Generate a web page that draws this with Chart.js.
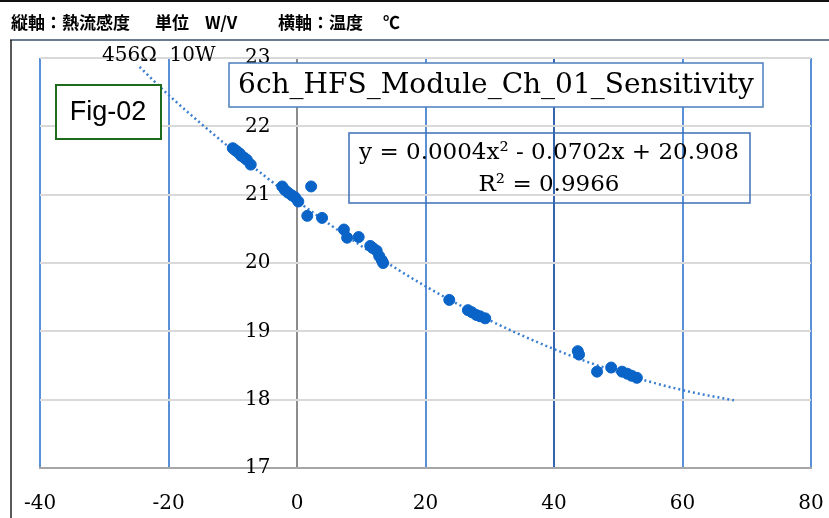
<!DOCTYPE html>
<html>
<head>
<meta charset="utf-8">
<script src="https://cdn.jsdelivr.net/npm/chart.js@4/dist/chart.umd.min.js"></script>
<style>
  html, body { margin: 0; padding: 0; background: #fff; }
  canvas { display: block; }
</style>
</head>
<body>
<canvas id="sensChart" width="829" height="518"></canvas>
<script>
// temperature (C) vs heat flow sensitivity (W/V)
const tempC = [-10.0, -9.6, -9.3, -8.9, -8.7, -8.2, -7.8, -7.2,
  -2.3, -1.9, -1.4, -0.8, -0.3, 0.2, 2.2, 1.6, 3.9,
  7.3, 7.8, 9.6, 11.4, 11.8, 12.4, 12.8, 13.2, 13.4,
  23.7, 26.6, 27.2, 27.9, 28.5, 29.3,
  43.7, 43.9, 46.7, 48.9, 50.6, 51.4, 52.1, 52.9];
const sensitivity = [21.68, 21.65, 21.63, 21.60, 21.57, 21.54, 21.51, 21.44,
  21.12, 21.07, 21.03, 20.99, 20.96, 20.90, 21.12, 20.69, 20.66,
  20.49, 20.37, 20.38, 20.25, 20.22, 20.18, 20.10, 20.04, 20.00,
  19.46, 19.31, 19.28, 19.24, 19.22, 19.19,
  18.71, 18.66, 18.41, 18.47, 18.41, 18.38, 18.35, 18.32];

// dotted trend curve
const trendX = [-24.5, -20, -10, 0, 10, 20, 30, 40, 50, 60, 68];
const trendY = [22.87, 22.46, 21.65, 20.91, 20.25, 19.66, 19.16, 18.74, 18.40, 18.14, 17.99];

const xTicks = [-40, -20, 0, 20, 40, 60, 80];
const yTicks = [17, 18, 19, 20, 21, 22, 23];

const headerParts = [
  { text: '縦軸：熱流感度', x: 11 },
  { text: '単位', x: 155 },
  { text: 'W/V', x: 205 },
  { text: '横軸：温度', x: 278 },
  { text: '℃', x: 383 }
];
const chartTitle = '6ch_HFS_Module_Ch_01_Sensitivity';
const trendLabel = ['y = 0.0004x² - 0.0702x + 20.908', 'R² = 0.9966'];
const figLabel = 'Fig-02';
const noteLabel = '456Ω  10W';

const SERIF = '"DejaVu Serif", "Liberation Serif", serif';

// frame, header and text boxes
const decorations = {
  id: 'decorations',
  beforeDraw(chart) {
    const ctx = chart.ctx;
    ctx.save();
    ctx.fillStyle = '#fff';
    ctx.fillRect(0, 0, chart.width, chart.height);
    // top black rule
    ctx.fillStyle = '#111';
    ctx.fillRect(0, 0, chart.width, 2);
    // header text
    ctx.fillStyle = '#000';
    ctx.font = 'bold 17px "Noto Sans CJK JP"';
    ctx.textBaseline = 'middle';
    headerParts.forEach(p => ctx.fillText(p.text, p.x, 23));
    // frame
    ctx.strokeStyle = '#6a7b90';
    ctx.lineWidth = 2;
    ctx.beginPath();
    ctx.moveTo(10, 40);
    ctx.lineTo(chart.width, 40);
    ctx.stroke();
    ctx.strokeStyle = '#222';
    ctx.lineWidth = 1.5;
    ctx.beginPath();
    ctx.moveTo(11, 40);
    ctx.lineTo(11, chart.height);
    ctx.stroke();
    ctx.restore();
  },
  afterDatasetsDraw(chart) {
    const ctx = chart.ctx;
    ctx.save();
    // chart title box
    ctx.fillStyle = '#fff';
    ctx.fillRect(229, 63, 534, 44);
    ctx.strokeStyle = '#4a7ebb';
    ctx.lineWidth = 1.5;
    ctx.strokeRect(229, 63, 534, 44);
    ctx.fillStyle = '#000';
    ctx.font = '28px ' + SERIF;
    ctx.textAlign = 'center';
    ctx.textBaseline = 'middle';
    ctx.fillText(chartTitle, 496, 86);

    // trendline equation box
    ctx.strokeStyle = '#3e6fb5';
    ctx.strokeRect(349, 133, 401, 70);
    ctx.font = '23px ' + SERIF;
    ctx.fillText(trendLabel[0], 549, 153);
    ctx.fillText(trendLabel[1], 549, 185);

    // Fig-02 box
    ctx.fillStyle = '#fff';
    ctx.fillRect(56, 85, 105, 54);
    ctx.strokeStyle = '#1e6b1e';
    ctx.lineWidth = 2;
    ctx.strokeRect(56, 85, 105, 54);
    ctx.fillStyle = '#000';
    ctx.font = '27px "Liberation Sans", Arial, sans-serif';
    ctx.fillText(figLabel, 108, 113);

    // resistor note
    ctx.font = '20px ' + SERIF;
    ctx.textAlign = 'left';
    ctx.fillText(noteLabel, 102, 56);
    ctx.restore();
  }
};

const ctx = document.getElementById('sensChart').getContext('2d');
new Chart(ctx, {
  type: 'scatter',
  data: {
    datasets: [
      {
        label: 'Sensitivity',
        data: tempC.map((t, i) => ({ x: t, y: sensitivity[i] })),
        backgroundColor: '#0a64c8',
        borderColor: '#0a64c8',
        pointRadius: 5.5,
        pointHoverRadius: 5.5,
        order: 1
      },
      {
        label: 'Trend',
        type: 'line',
        data: trendX.map((t, i) => ({ x: t, y: trendY[i] })),
        borderColor: '#3c7fd0',
        borderWidth: 2.5,
        borderDash: [2, 3],
        pointRadius: 0,
        cubicInterpolationMode: 'monotone',
        fill: false,
        order: 2
      }
    ]
  },
  options: {
    responsive: false,
    animation: false,
    devicePixelRatio: 1,
    layout: { padding: { left: 40, right: 18, top: 58, bottom: 0 } },
    plugins: {
      legend: { display: false },
      tooltip: { enabled: false }
    },
    scales: {
      x: {
        type: 'linear',
        min: -40,
        max: 80,
        afterBuildTicks: s => { s.ticks = xTicks.map(v => ({ value: v })); },
        afterFit: s => { s.height = 50; },
        grid: {
          drawTicks: true,
          tickLength: 24,
          tickColor: 'rgba(0,0,0,0)',
          color: c => (c.tick && c.tick.value === 0) ? '#8c8c8c'
            : (c.tick && c.tick.value === 40) ? '#3565b0' : '#5a90d8',
          lineWidth: 2
        },
        border: { color: '#a6a6a6', width: 2 },
        ticks: {
          padding: 0,
          color: '#000',
          font: { family: SERIF, size: 20 }
        }
      },
      y: {
        type: 'linear',
        position: 'left',
        min: 17,
        max: 23,
        afterBuildTicks: s => { s.ticks = yTicks.map(v => ({ value: v })); },
        afterFit: s => {
          s.width = 0;
          s.paddingTop = 0;
          s.paddingBottom = 0;
        },
        grid: { drawTicks: false, color: '#d9d9d9', lineWidth: 2 },
        border: { display: false },
        ticks: {
          mirror: true,
          crossAlign: 'far',
          padding: 205,
          color: '#000',
          font: { family: SERIF, size: 20 }
        }
      }
    }
  },
  plugins: [decorations]
});
</script>
</body>
</html>
